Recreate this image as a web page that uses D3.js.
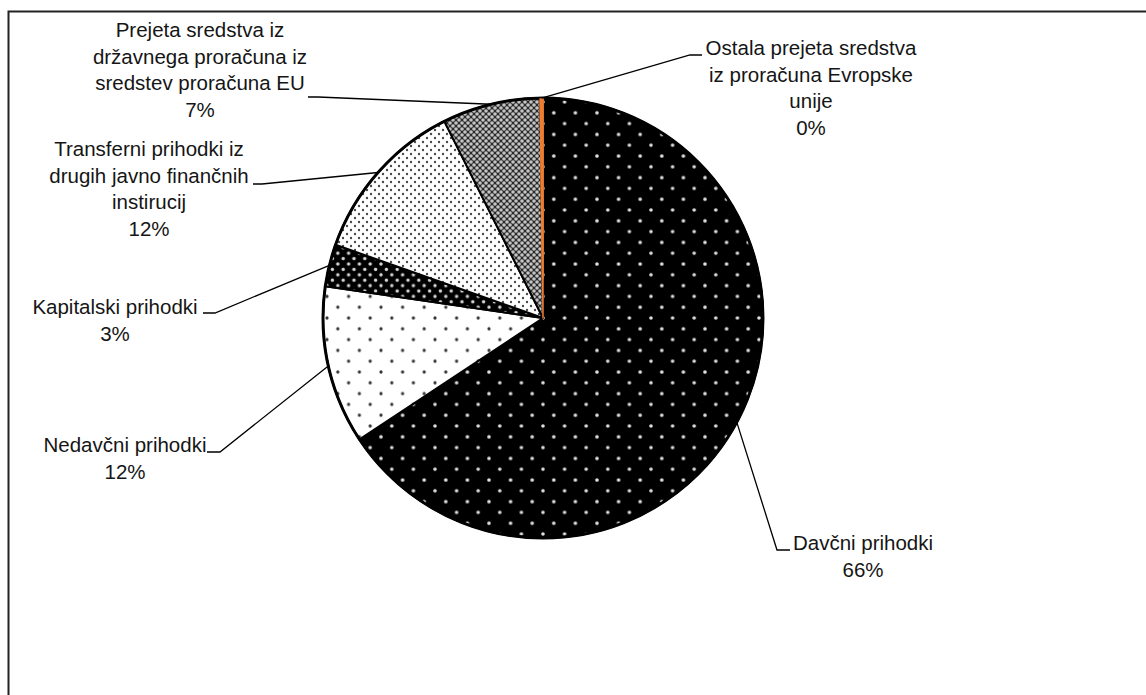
<!DOCTYPE html>
<html><head><meta charset="utf-8">
<script src="https://cdn.jsdelivr.net/npm/d3@7"></script>
<style>
html,body{margin:0;padding:0;background:#fff;}
svg{display:block;}
text{font-family:"Liberation Sans",Arial,sans-serif;font-size:20.5px;fill:#151515;}
</style></head>
<body>
<svg id="chart" width="1146" height="695"></svg>
<script>
// ---- data ----
const categories = [
  "Davčni prihodki",
  "Nedavčni prihodki",
  "Kapitalski prihodki",
  "Transferni prihodki iz drugih javno finančnih instirucij",
  "Prejeta sredstva iz državnega proračuna iz sredstev proračuna EU",
  "Ostala prejeta sredstva iz proračuna Evropske unije"
];
const values = [65.7, 11.6, 3.1, 12.2, 7.2, 0.2];
const labelLines = [
  ["Davčni prihodki"],
  ["Nedavčni prihodki"],
  ["Kapitalski prihodki"],
  ["Transferni prihodki iz", "drugih javno finančnih", "instirucij"],
  ["Prejeta sredstva iz", "državnega proračuna iz", "sredstev proračuna EU"],
  ["Ostala prejeta sredstva", "iz proračuna Evropske", "unije"]
];

// ---- layout ----
const W = 1146, H = 695;
const cx = 543, cy = 318, R = 220;
const lineH = 26.6;
// label block: centre x, first baseline y, leader start point, horizontal tick end
const labelLayout = [
  {x: 863, y: 550, lx: 790, ly: 550, tx: 777},
  {x: 125, y: 452, lx: 207, ly: 452, tx: 220},
  {x: 115, y: 314, lx: 203, ly: 313, tx: 215},
  {x: 149, y: 156, lx: 253, ly: 184, tx: 262},
  {x: 200, y: 37,  lx: 308, ly: 97,  tx: 318},
  {x: 811, y: 55,  lx: 702, ly: 55,  tx: 690}
];
const fills = ["url(#pDav)", "url(#pNed)", "url(#pKap)", "url(#pTra)", "url(#pEU)", "#ED7D31"];

const svg = d3.select("#chart");
const defs = svg.append("defs");

function dotPattern(id, size, bg, fg, r) {
  const p = defs.append("pattern").attr("id", id)
    .attr("patternUnits", "userSpaceOnUse")
    .attr("width", size).attr("height", size);
  p.append("rect").attr("width", size).attr("height", size).attr("fill", bg);
  const h = size / 2;
  [[0,0],[size,0],[0,size],[size,size],[h,h]].forEach(([x,y]) =>
    p.append("circle").attr("cx", x).attr("cy", y).attr("r", r).attr("fill", fg));
}
dotPattern("pDav", 21.6, "#000", "#e0e0e0", 1.8);
dotPattern("pNed", 21.6, "#fff", "#333", 1.6);
dotPattern("pKap", 10.8, "#000", "#d8d8d8", 1.7);
dotPattern("pTra", 8, "#fff", "#4a4a4a", 1.2);
dotPattern("pEU", 6, "#2a2a2a", "#c4c4c4", 1.8);

// frame
svg.append("path").attr("d", `M8.5,${H} L8.5,11.5 L${W},11.5`)
  .attr("fill", "none").attr("stroke", "#222").attr("stroke-width", 2);

const total = d3.sum(values);
const pie = d3.pie().sort(null).value(d => d).startAngle(0).endAngle(2 * Math.PI);
const arcs = pie(values);
const arc = d3.arc().innerRadius(0).outerRadius(R);
const edgeArc = d3.arc().innerRadius(R).outerRadius(R);

const g = svg.append("g").attr("transform", `translate(${cx},${cy})`);
g.selectAll("path.slice").data(arcs).enter().append("path")
  .attr("class", "slice")
  .attr("d", arc)
  .attr("fill", (d, i) => fills[i])
  .attr("stroke", (d, i) => i === 5 ? "#ED7D31" : "#000")
  .attr("stroke-width", (d, i) => i === 5 ? 1.5 : 2)
  .attr("stroke-linejoin", "round");
// outer rim
g.append("circle").attr("r", R).attr("fill", "none").attr("stroke", "#000").attr("stroke-width", 3);
// orange slice drawn on top so it stays visible
g.append("path").datum(arcs[5]).attr("d", d3.arc().innerRadius(40).outerRadius(R - 1))
  .attr("fill", "#ED7D31").attr("stroke", "#ED7D31").attr("stroke-width", 1.5);

// leader lines and labels
const fmt = d3.format(".0%");
arcs.forEach((a, i) => {
  const L = labelLayout[i];
  const [ex, ey] = edgeArc.centroid(a);
  svg.append("path")
    .attr("d", `M${L.lx},${L.ly} L${L.tx},${L.ly} L${cx + ex},${cy + ey}`)
    .attr("fill", "none").attr("stroke", "#000").attr("stroke-width", 1.3);
  const lines = labelLines[i].concat([fmt(values[i] / total)]);
  const t = svg.append("text").attr("text-anchor", "middle");
  lines.forEach((s, k) => {
    t.append("tspan").attr("x", L.x).attr("y", L.y + k * lineH).text(s);
  });
});
</script>
</body></html>
